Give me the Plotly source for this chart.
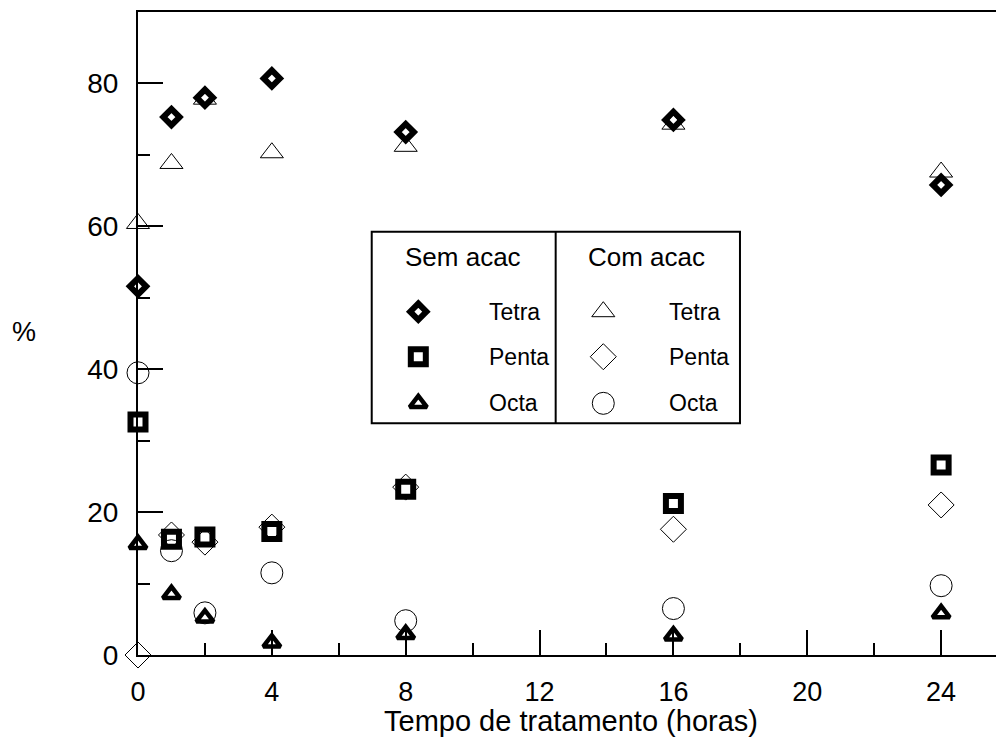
import plotly.graph_objects as go

# Treatment time (hours)
tempo = [0, 1, 2, 4, 8, 16, 24]

# Without acac (bold symbols)
sem_tetra = [51.6, 75.3, 78.0, 80.7, 73.2, 74.9, 65.8]
sem_penta = [32.6, 16.2, 16.5, 17.3, 23.2, 21.2, 26.6]
sem_octa = [15.5, 8.5, 5.2, 1.7, 2.9, 2.7, 5.8]

# With acac (thin open symbols)
com_tetra = [60.4, 68.8, 77.8, 70.3, 71.2, 74.3, 67.6]
com_penta = [0.0, 16.8, 15.8, 17.9, 23.5, 17.6, 21.0]
com_octa = [39.5, 14.6, 5.9, 11.5, 4.8, 6.5, 9.7]

x_ticks = [0, 4, 8, 12, 16, 20, 24]
y_ticks = [0, 20, 40, 60, 80]
grupos = ["Sem acac", "Com acac"]
especies = ["Tetra", "Penta", "Octa"]

FONT = "Liberation Sans, Arial, sans-serif"
BLACK = "black"

# marker styles: (symbol, size, line width)
estilo_sem = [("diamond-open", 12.5, 6), ("square-open", 15, 6), ("triangle-up-open", 15, 4.5)]
estilo_com = [("triangle-up-open", 20, 1), ("diamond-open", 20, 1), ("circle-open", 22, 1)]

fig = go.Figure()

series = [
    (com_tetra, estilo_com[0]), (com_penta, estilo_com[1]), (com_octa, estilo_com[2]),
    (sem_tetra, estilo_sem[0]), (sem_penta, estilo_sem[1]), (sem_octa, estilo_sem[2]),
]
for vals, (sym, size, lw) in series:
    fig.add_trace(go.Scatter(
        x=tempo, y=vals, mode="markers", cliponaxis=False, showlegend=False,
        marker=dict(symbol=sym, size=size, color=BLACK, line=dict(color=BLACK, width=lw)),
        hoverinfo="skip",
    ))

# Boxed two-column key, drawn on an overlay axis spanning the plot area (0..1)
kx0, kx1, kdiv = 0.2724, 0.7016, 0.4868
ky0, ky1 = 0.3603, 0.6583
rows_y = [0.5339, 0.4639, 0.3914]
col_marker_x = [0.3267, 0.5423]
col_label_x = [0.4064, 0.6166]
col_head_x = [0.3788, 0.5929]
head_y = 0.6195

for ci, estilos in enumerate([estilo_sem, estilo_com]):
    for ri, (sym, size, lw) in enumerate(estilos):
        fig.add_trace(go.Scatter(
            x=[col_marker_x[ci]], y=[rows_y[ri]], xaxis="x2", yaxis="y2",
            mode="markers", showlegend=False, hoverinfo="skip", cliponaxis=False,
            marker=dict(symbol=sym, size=size, color=BLACK, line=dict(color=BLACK, width=lw)),
        ))
        fig.add_annotation(
            x=col_label_x[ci], y=rows_y[ri], xref="paper", yref="paper",
            text=especies[ri], showarrow=False, xanchor="left", yanchor="middle",
            font=dict(family=FONT, size=23, color=BLACK),
        )
    fig.add_annotation(
        x=col_head_x[ci], y=head_y, xref="paper", yref="paper",
        text=grupos[ci], showarrow=False, xanchor="center", yanchor="middle",
        font=dict(family=FONT, size=26, color=BLACK),
    )

fig.add_shape(type="rect", xref="paper", yref="paper", x0=kx0, x1=kx1, y0=ky0, y1=ky1,
              line=dict(color=BLACK, width=2), fillcolor="rgba(0,0,0,0)")
fig.add_shape(type="line", xref="paper", yref="paper", x0=kdiv, x1=kdiv, y0=ky0, y1=ky1,
              line=dict(color=BLACK, width=2))

# axis titles
fig.add_annotation(x=-0.1329, y=0.5016, xref="paper", yref="paper", text="%",
                   showarrow=False, xanchor="center", yanchor="middle",
                   font=dict(family=FONT, size=27, color=BLACK))
fig.add_annotation(x=0.5047, y=-0.1026, xref="paper", yref="paper",
                   text="Tempo de tratamento (horas)", showarrow=False,
                   xanchor="center", yanchor="middle",
                   font=dict(family=FONT, size=29, color=BLACK))

fig.update_layout(
    width=996, height=746,
    margin=dict(l=138, r=0, t=12, b=91, pad=0),
    paper_bgcolor="white", plot_bgcolor="white",
    font=dict(family=FONT, color=BLACK),
    xaxis=dict(
        range=[0, 25.64], tickvals=x_ticks, ticktext=[str(v) for v in x_ticks],
        ticks="inside", ticklen=25, tickwidth=2, tickcolor=BLACK,
        minor=dict(ticks="inside", ticklen=12, tickwidth=2, dtick=2, tick0=0, tickcolor=BLACK),
        showline=True, linewidth=2, linecolor=BLACK, mirror=True,
        showgrid=False, zeroline=False, tickfont=dict(family=FONT, size=27, color=BLACK),
        ticklabelstandoff=12,
    ),
    yaxis=dict(
        range=[0, 90], tickvals=y_ticks, ticktext=[str(v) for v in y_ticks],
        ticks="inside", ticklen=25, tickwidth=2, tickcolor=BLACK,
        minor=dict(ticks="inside", ticklen=12, tickwidth=2, dtick=10, tick0=0, tickcolor=BLACK),
        showline=True, linewidth=2, linecolor=BLACK, mirror=False,
        showgrid=False, zeroline=False, tickfont=dict(family=FONT, size=28, color=BLACK),
        ticklabelstandoff=12,
    ),
    xaxis2=dict(range=[0, 1], overlaying="x", anchor="y2", visible=False, fixedrange=True),
    yaxis2=dict(range=[0, 1], overlaying="y", anchor="x2", visible=False, fixedrange=True),
)

fig.write_html("out.html")
